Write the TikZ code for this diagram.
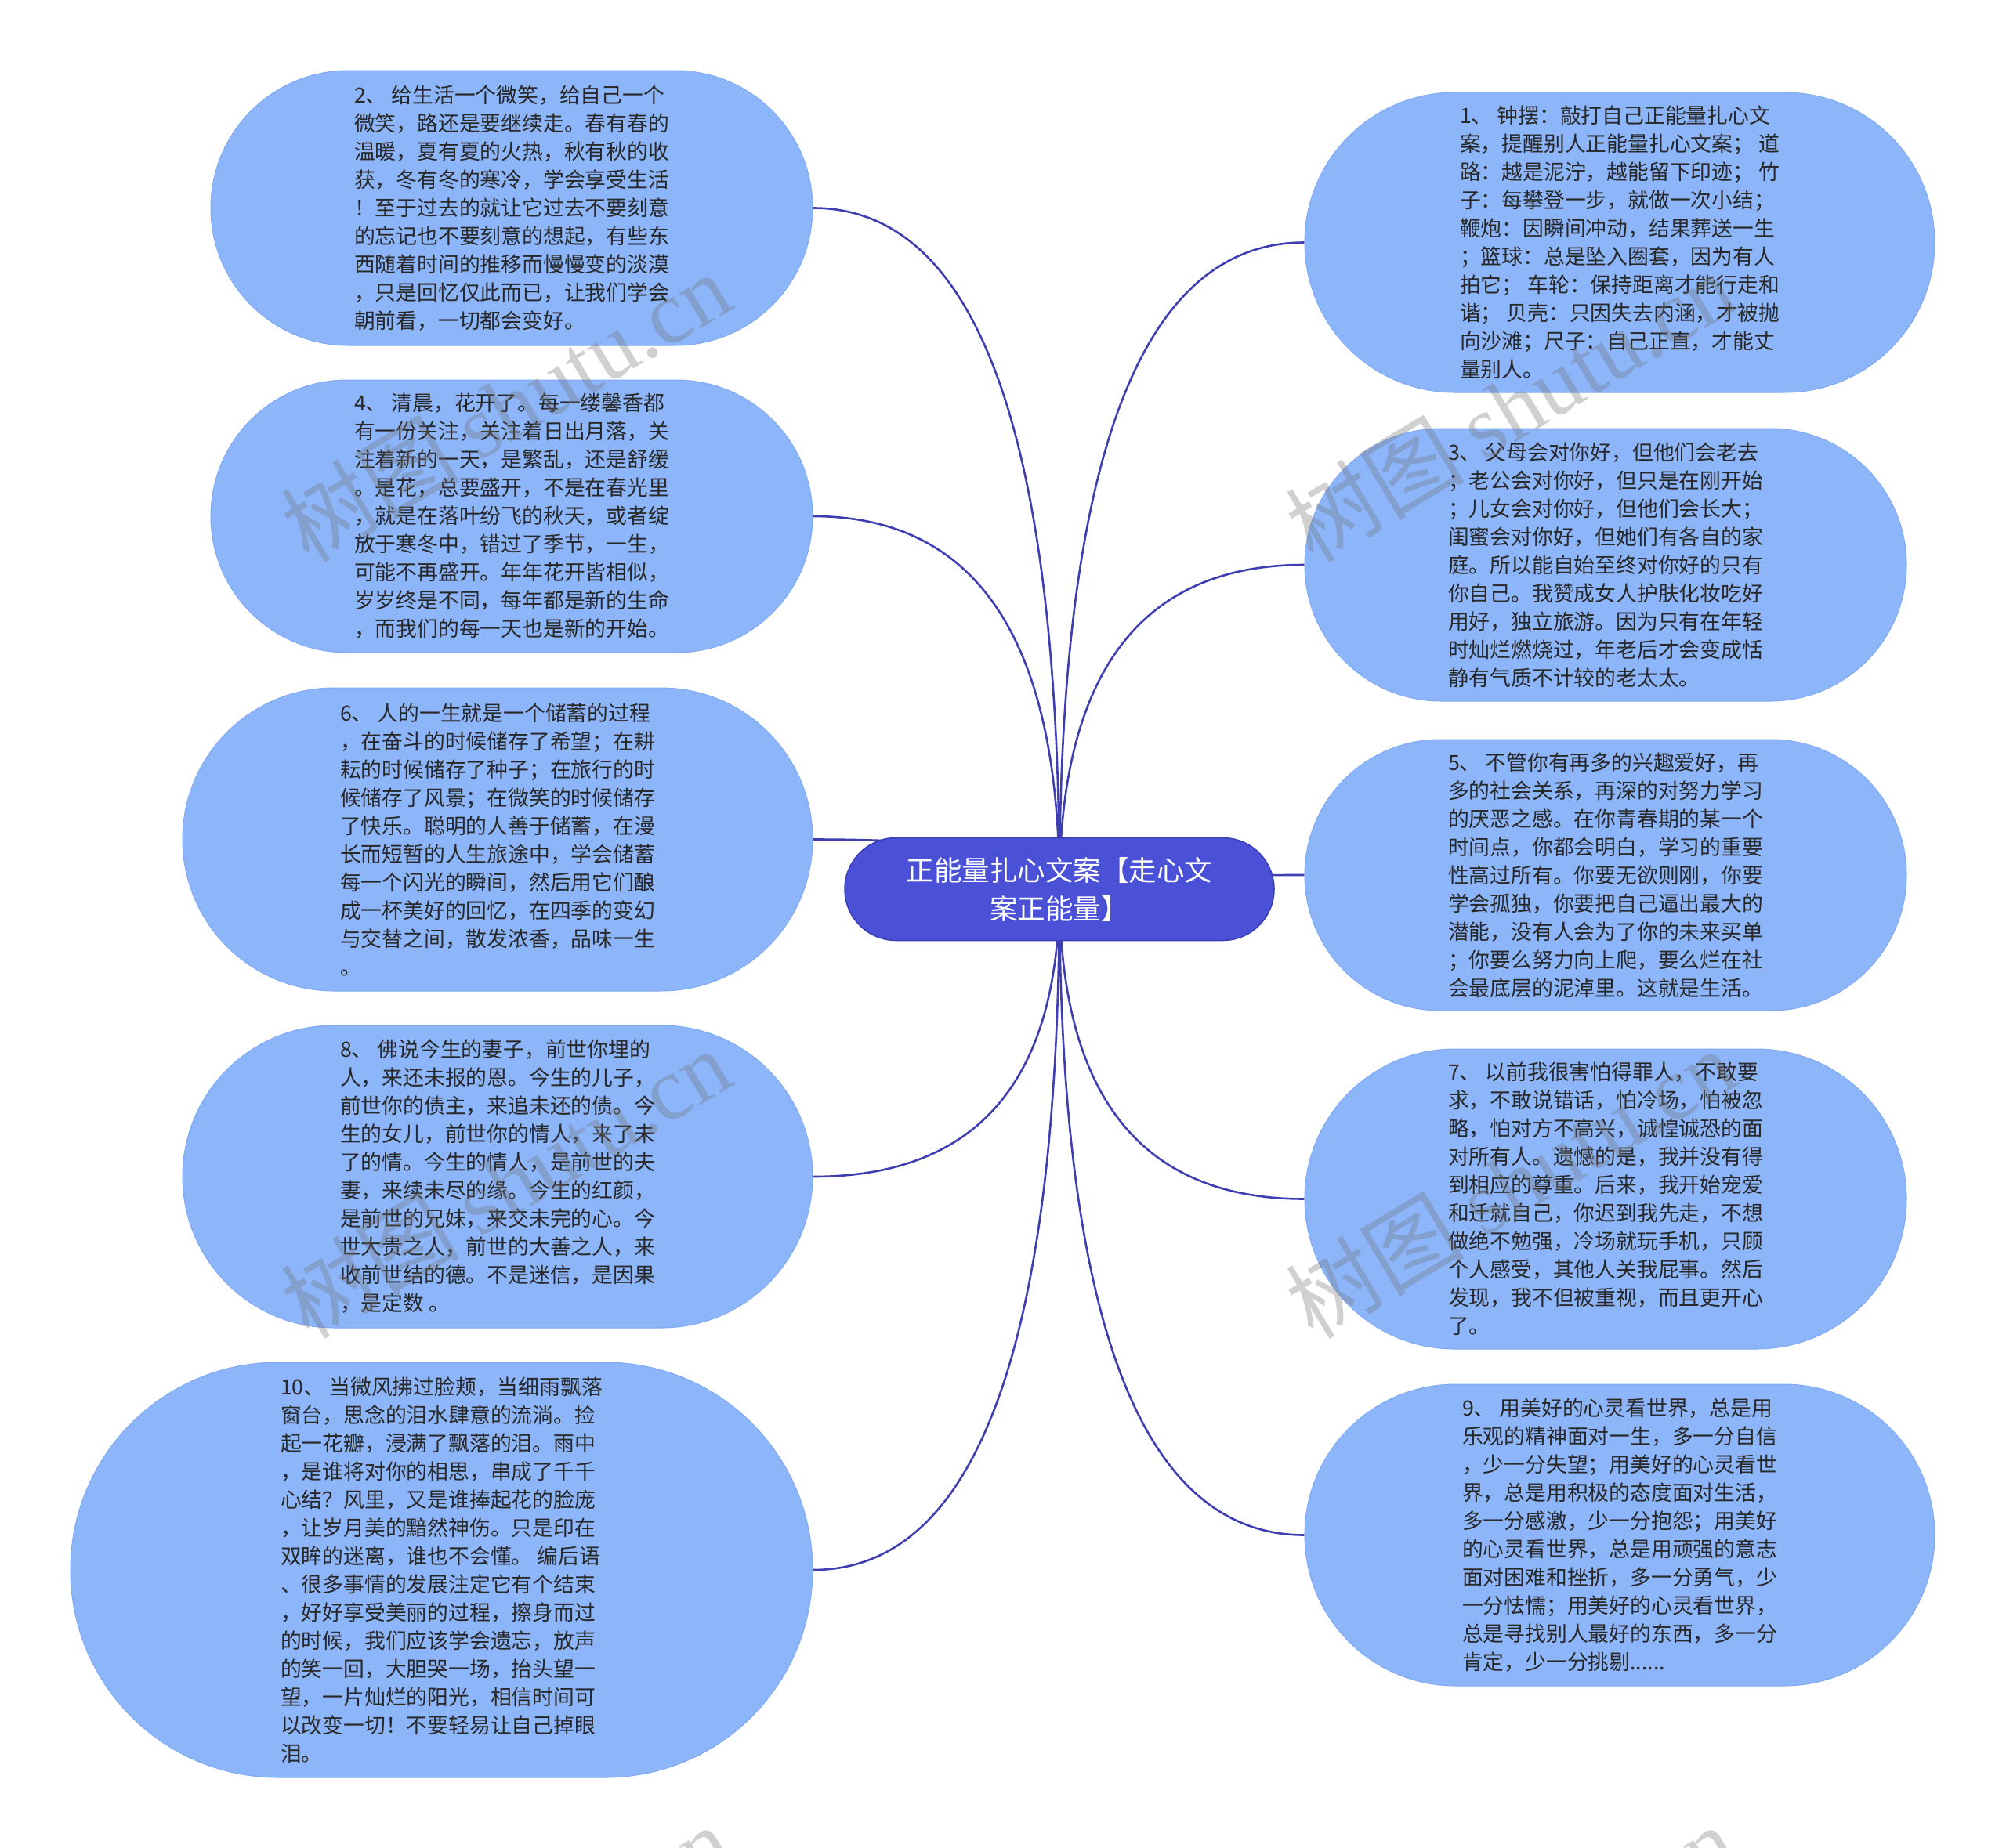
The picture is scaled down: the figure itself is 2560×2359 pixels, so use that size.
\documentclass[tikz,border=0pt]{standalone}
\usepackage{fontspec}
\setmainfont{Noto Sans CJK SC}
\newfontfamily\wmlatin{Liberation Serif}
\usetikzlibrary{shapes.misc,calc}
\definecolor{leaffill}{RGB}{140,181,250}
\definecolor{leafdraw}{RGB}{128,170,244}
\definecolor{ctrfill}{RGB}{74,81,214}
\definecolor{ctrdraw}{RGB}{58,62,180}
\definecolor{linkcol}{RGB}{62,62,178}
\definecolor{txtcol}{RGB}{40,40,40}
\pgfdeclarelayer{bg}
\pgfdeclarelayer{paper}
\pgfsetlayers{paper,bg,main}
\newcommand\linkL[1]{%
  \coordinate (k-#1) at (ctr.center |- #1.east);
  \draw[linkline] (ctr.center) .. controls ($(ctr.center)!0.667!(k-#1)$) and ($(#1.east)!0.667!(k-#1)$) .. (#1.east);}
\newcommand\linkR[1]{%
  \coordinate (k-#1) at (ctr.center |- #1.west);
  \draw[linkline] (ctr.center) .. controls ($(ctr.center)!0.667!(k-#1)$) and ($(#1.west)!0.667!(k-#1)$) .. (#1.west);}
\newcommand\wmtext{树图 {\wmlatin shutu.cn}}
\begin{document}
\begin{tikzpicture}[x=1pt,y=-1pt,
  leaf/.style={rounded rectangle, fill=leaffill, draw=leafdraw, line width=1pt,
    text=txtcol, align=left, inner sep=0pt,
    font=\fontsize{26.8}{36}\selectfont},
  ctrbox/.style={rounded rectangle, fill=ctrfill, draw=ctrdraw, line width=1.5pt,
    text=white, align=center, inner sep=0pt,
    font=\fontsize{35.5}{49}\selectfont},
  linkline/.style={draw=linkcol, line width=2.6pt},
  wm/.style={rotate=31, text=black!55, opacity=0.33,
    font=\fontsize{114}{120}\selectfont}]
\begin{pgfonlayer}{paper}
\fill[white] (0,0) rectangle (2560,2359);
\end{pgfonlayer}
\useasboundingbox (0,0) rectangle (2560,2359);
\clip (0,0) rectangle (2560,2359);

\node[ctrbox, minimum width=548pt, minimum height=131pt] (ctr) at (1352,1135)
  {正能量扎心文案【走心文\\案正能量】};

\node[leaf, minimum width=768pt, minimum height=351pt] (n2) at (653,265.5) {%
2、 给生活一个微笑，给自己一个\\
微笑，路还是要继续走。春有春的\\
温暖，夏有夏的火热，秋有秋的收\\
获，冬有冬的寒冷，学会享受生活\\
！至于过去的就让它过去不要刻意\\
的忘记也不要刻意的想起，有些东\\
西随着时间的推移而慢慢变的淡漠\\
，只是回忆仅此而已，让我们学会\\
朝前看，一切都会变好。};

\node[leaf, minimum width=768pt, minimum height=348pt] (n4) at (653,659) {%
4、 清晨，花开了。每一缕馨香都\\
有一份关注，关注着日出月落，关\\
注着新的一天，是繁乱，还是舒缓\\
。是花，总要盛开，不是在春光里\\
，就是在落叶纷飞的秋天，或者绽\\
放于寒冬中，错过了季节，一生，\\
可能不再盛开。年年花开皆相似，\\
岁岁终是不同，每年都是新的生命\\
，而我们的每一天也是新的开始。};

\node[leaf, minimum width=804pt, minimum height=387pt] (n6) at (635,1071.5) {%
6、 人的一生就是一个储蓄的过程\\
，在奋斗的时候储存了希望；在耕\\
耘的时候储存了种子；在旅行的时\\
候储存了风景；在微笑的时候储存\\
了快乐。聪明的人善于储蓄，在漫\\
长而短暂的人生旅途中，学会储蓄\\
每一个闪光的瞬间，然后用它们酿\\
成一杯美好的回忆，在四季的变幻\\
与交替之间，散发浓香，品味一生\\
。};

\node[leaf, minimum width=804pt, minimum height=386pt] (n8) at (635,1502) {%
8、 佛说今生的妻子，前世你埋的\\
人，来还未报的恩。今生的儿子，\\
前世你的债主，来追未还的债。今\\
生的女儿，前世你的情人，来了未\\
了的情。今生的情人，是前世的夫\\
妻，来续未尽的缘。今生的红颜，\\
是前世的兄妹，来交未完的心。今\\
世大贵之人，前世的大善之人，来\\
收前世结的德。不是迷信，是因果\\
，是定数 。};

\node[leaf, minimum width=947pt, minimum height=530pt] (n10) at (563.5,2004) {%
10、 当微风拂过脸颊，当细雨飘落\\
窗台，思念的泪水肆意的流淌。捡\\
起一花瓣，浸满了飘落的泪。雨中\\
，是谁将对你的相思，串成了千千\\
心结？风里，又是谁捧起花的脸庞\\
，让岁月美的黯然神伤。只是印在\\
双眸的迷离，谁也不会懂。 编后语\\
、很多事情的发展注定它有个结束\\
，好好享受美丽的过程，擦身而过\\
的时候，我们应该学会遗忘，放声\\
的笑一回，大胆哭一场，抬头望一\\
望，一片灿烂的阳光，相信时间可\\
以改变一切！不要轻易让自己掉眼\\
泪。};

\node[leaf, minimum width=804pt, minimum height=383pt] (n1) at (2067,309.5) {%
1、 钟摆：敲打自己正能量扎心文\\
案，提醒别人正能量扎心文案； 道\\
路：越是泥泞，越能留下印迹； 竹\\
子：每攀登一步，就做一次小结；\\
鞭炮：因瞬间冲动，结果葬送一生\\
；篮球：总是坠入圈套，因为有人\\
拍它； 车轮：保持距离才能行走和\\
谐； 贝壳：只因失去内涵，才被抛\\
向沙滩；尺子：自己正直，才能丈\\
量别人。};

\node[leaf, minimum width=768pt, minimum height=348pt] (n3) at (2049,721) {%
3、 父母会对你好，但他们会老去\\
；老公会对你好，但只是在刚开始\\
；儿女会对你好，但他们会长大；\\
闺蜜会对你好，但她们有各自的家\\
庭。所以能自始至终对你好的只有\\
你自己。我赞成女人护肤化妆吃好\\
用好，独立旅游。因为只有在年轻\\
时灿烂燃烧过，年老后才会变成恬\\
静有气质不计较的老太太。};

\node[leaf, minimum width=768pt, minimum height=346pt] (n5) at (2049,1117) {%
5、 不管你有再多的兴趣爱好，再\\
多的社会关系，再深的对努力学习\\
的厌恶之感。在你青春期的某一个\\
时间点，你都会明白，学习的重要\\
性高过所有。你要无欲则刚，你要\\
学会孤独，你要把自己逼出最大的\\
潜能，没有人会为了你的未来买单\\
；你要么努力向上爬，要么烂在社\\
会最底层的泥淖里。这就是生活。};

\node[leaf, minimum width=768pt, minimum height=383pt] (n7) at (2049,1530.5) {%
7、 以前我很害怕得罪人，不敢要\\
求，不敢说错话，怕冷场，怕被忽\\
略，怕对方不高兴，诚惶诚恐的面\\
对所有人。遗憾的是，我并没有得\\
到相应的尊重。后来，我开始宠爱\\
和迁就自己，你迟到我先走，不想\\
做绝不勉强，冷场就玩手机，只顾\\
个人感受，其他人关我屁事。然后\\
发现，我不但被重视，而且更开心\\
了。};

\node[leaf, minimum width=804pt, minimum height=385pt] (n9) at (2067,1959.5) {%
9、 用美好的心灵看世界，总是用\\
乐观的精神面对一生，多一分自信\\
，少一分失望；用美好的心灵看世\\
界，总是用积极的态度面对生活，\\
多一分感激，少一分抱怨；用美好\\
的心灵看世界，总是用顽强的意志\\
面对困难和挫折，多一分勇气，少\\
一分怯懦；用美好的心灵看世界，\\
总是寻找别人最好的东西，多一分\\
肯定，少一分挑剔......};

\begin{pgfonlayer}{bg}
\linkL{n2}\linkL{n4}\linkL{n6}\linkL{n8}\linkL{n10}
\linkR{n1}\linkR{n3}\linkR{n5}\linkR{n7}\linkR{n9}
\end{pgfonlayer}

\node[wm] (w1) at (645,519) {\wmtext};
\node[wm] (w2) at (1927,519) {\wmtext};
\node[wm] (w3) at (645,1510) {\wmtext};
\node[wm] (w4) at (1927,1510) {\wmtext};
\node[wm] (w5) at (645,2501) {\wmtext};
\node[wm] (w6) at (1927,2501) {\wmtext};
\end{tikzpicture}
\end{document}
